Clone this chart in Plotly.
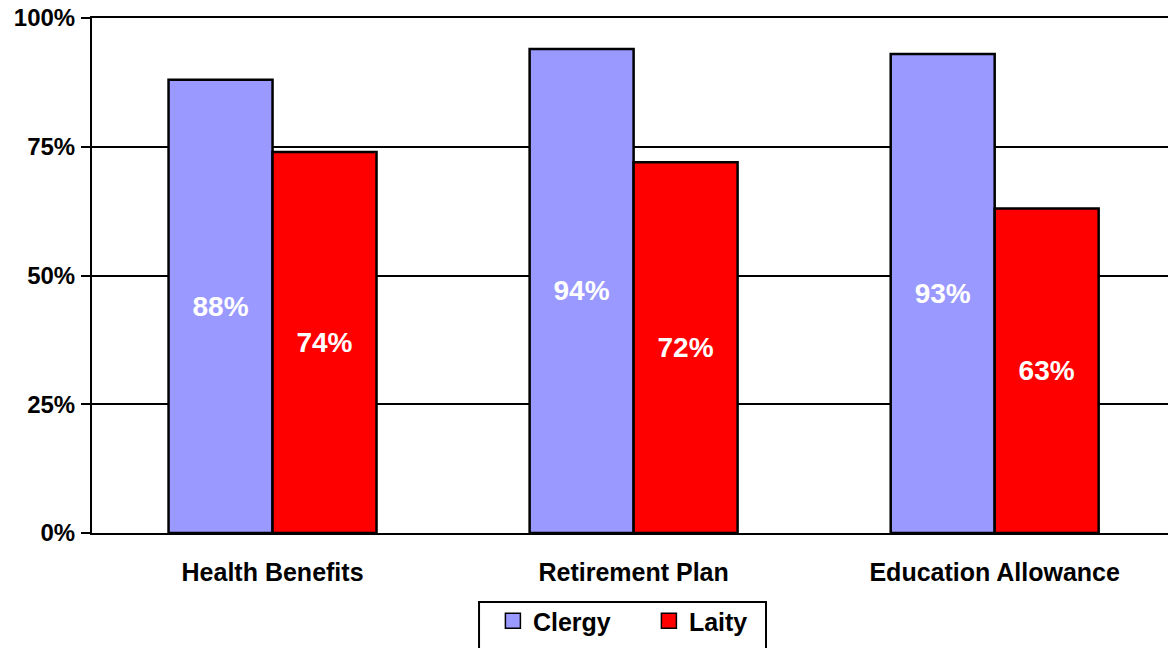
import plotly.graph_objects as go

# Survey results: share offered each benefit
categories = ["Health Benefits", "Retirement Plan", "Education Allowance"]
clergy = [88, 94, 93]
laity = [74, 72, 63]
y_ticks = [0, 25, 50, 75, 100]
y_tick_labels = ["0%", "25%", "50%", "75%", "100%"]

FONT = "Liberation Sans, Arial, Helvetica, sans-serif"
series = [("Clergy", clergy, "#9999FF"), ("Laity", laity, "#FF0000")]

fig = go.Figure()
for name, vals, color in series:
    fig.add_trace(go.Bar(
        name=name,
        x=categories,
        y=vals,
        marker=dict(color=color, line=dict(color="black", width=2.5)),
        text=[f"{v}%" for v in vals],
        textposition="inside",
        insidetextanchor="middle",
        textangle=0,
        constraintext="none",
        insidetextfont=dict(family=FONT, size=28, color="white", weight="bold"),
        hoverinfo="skip",
        showlegend=False,
    ))

# Legend entries with larger outlined square swatches
for name, _, color in series:
    fig.add_trace(go.Scatter(
        name=name,
        x=[None],
        y=[None],
        mode="markers",
        marker=dict(symbol="square", size=15, color=color,
                    line=dict(color="black", width=1.5)),
        hoverinfo="skip",
    ))

# Frame around the legend, in paper coordinates below the plot area
fig.add_shape(
    type="rect",
    xref="paper", yref="paper",
    x0=0.3597, x1=0.6264, y0=-0.134, y1=-0.235,
    line=dict(color="black", width=2),
    fillcolor="rgba(0,0,0,0)",
    layer="above",
)

fig.update_layout(
    width=1168,
    height=648,
    margin=dict(l=92, r=0, t=18, b=115),
    paper_bgcolor="white",
    plot_bgcolor="white",
    barmode="group",
    bargap=0.424,
    bargroupgap=0,
    font=dict(family=FONT, color="black"),
    showlegend=True,
    legend=dict(
        orientation="h",
        xref="container",
        yref="container",
        x=0.422,
        xanchor="left",
        y=0.077,
        yanchor="top",
        bgcolor="rgba(0,0,0,0)",
        borderwidth=0,
        font=dict(family=FONT, size=25, color="black", weight="bold"),
        itemwidth=30,
        entrywidth=111,
        entrywidthmode="pixels",
    ),
    xaxis=dict(
        range=[-0.5, 2.48],
        showline=True,
        linecolor="black",
        linewidth=2,
        mirror=True,
        showgrid=False,
        ticks="",
        ticklabelstandoff=16,
        tickfont=dict(family=FONT, size=25, color="black", weight="bold"),
    ),
    yaxis=dict(
        range=[0, 100],
        tickvals=y_ticks,
        ticktext=y_tick_labels,
        showline=True,
        linecolor="black",
        linewidth=2,
        showgrid=True,
        gridcolor="black",
        gridwidth=2,
        zeroline=False,
        ticks="outside",
        ticklen=9,
        tickwidth=2,
        tickcolor="black",
        ticklabelstandoff=1,
        tickfont=dict(family=FONT, size=24, color="black", weight="bold"),
    ),
)

fig.write_html("out.html")
